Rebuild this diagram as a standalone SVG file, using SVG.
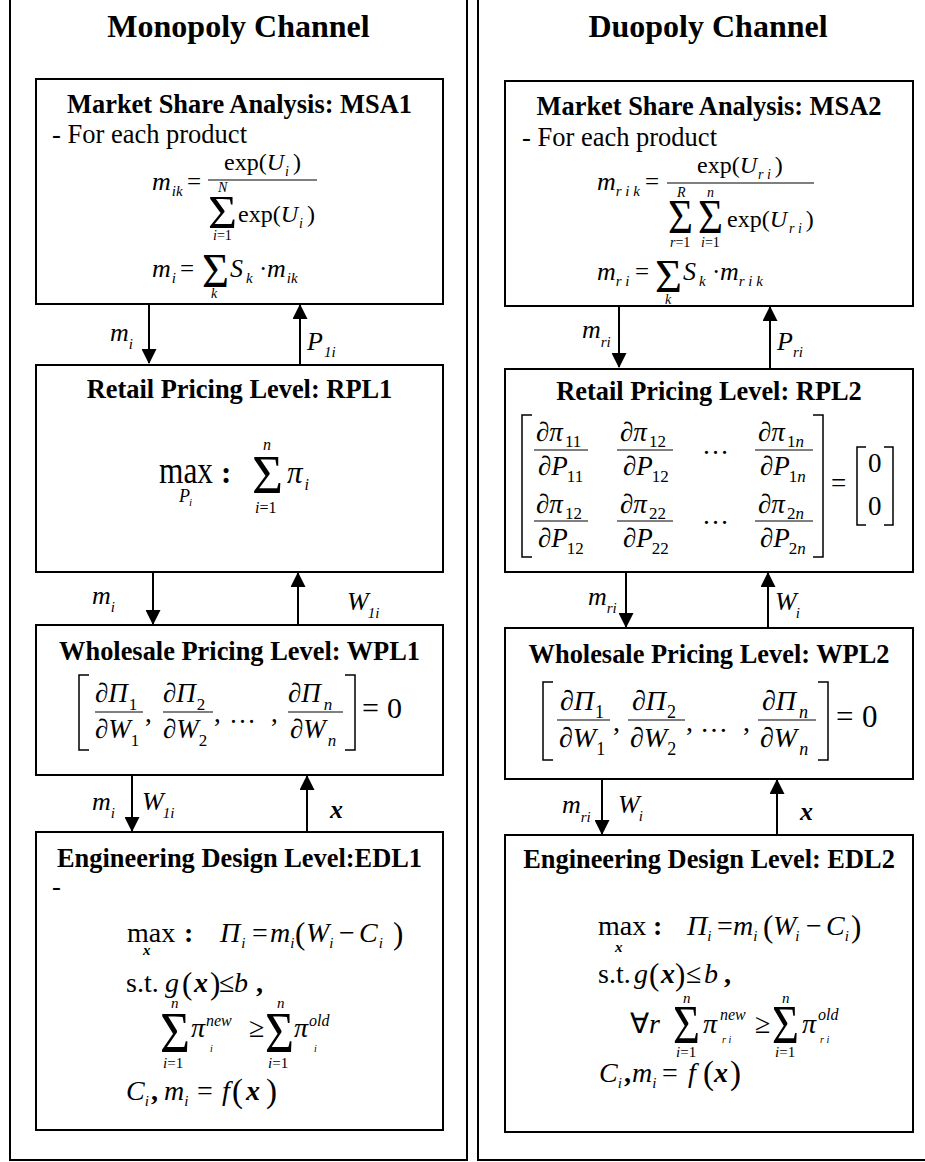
<svg xmlns="http://www.w3.org/2000/svg" width="925" height="1162" viewBox="0 0 925 1162">
<defs>
<style>
text{font-family:"Liberation Serif","Times New Roman",serif;fill:#000}
.pane{fill:none;stroke:#000;stroke-width:2}
.box{fill:#fff;stroke:#000;stroke-width:2}
.hd{font-size:32px;font-weight:bold;text-anchor:middle}
.tt{font-size:26.4px;font-weight:bold;text-anchor:middle}
.rg{font-size:26.5px}
.i{font-style:italic}
.u{font-style:normal}
.b{font-weight:bold}
.bi{font-style:italic;font-weight:bold}
.bar{stroke:#000;stroke-width:1.2}
.brk{fill:none;stroke:#000;stroke-width:1.5}
.conn{stroke:#000;stroke-width:2;marker-end:url(#ah)}
.lb{font-size:26px;font-style:italic}
</style>
<marker id="ah" markerUnits="userSpaceOnUse" markerWidth="15" markerHeight="15" viewBox="0 0 15 15" refX="14" refY="7.5" orient="auto"><path d="M0,0L15,7.5L0,15z" fill="#000"/></marker>
</defs>
<rect width="925" height="1162" fill="#fff"/>
<g id="panels">
<path class="pane" d="M10,0V1160H467V0"/>
<path class="pane" d="M478,0V1160H925"/>
<text class="hd" x="238.5" y="37">Monopoly Channel</text>
<text class="hd" x="708" y="37">Duopoly Channel</text>
</g>

<g id="msa1">
<rect class="box" x="36" y="79" width="407" height="225"/>
<text class="tt" x="239.5" y="113">Market Share Analysis: MSA1</text>
<text class="rg" x="52" y="143">- For each product</text>
<text class="i" x="152" y="190" font-size="26">m<tspan font-size="15" dy="6" dx="1">ik</tspan></text>
<text x="187" y="190" font-size="25">=</text>
<text x="224" y="170" font-size="24">exp(<tspan class="i">U</tspan><tspan class="i" font-size="14" dy="6" dx="1">i</tspan><tspan dy="-6" dx="4">)</tspan></text>
<line class="bar" x1="208" y1="180" x2="317" y2="180"/>
<text class="i" x="218" y="192" font-size="14">N</text>
<text x="208" y="228" font-size="47" textLength="29" lengthAdjust="spacingAndGlyphs">Σ</text>
<text x="238" y="222" font-size="24">exp(<tspan class="i">U</tspan><tspan class="i" font-size="14" dy="6" dx="1">i</tspan><tspan dy="-6" dx="4">)</tspan></text>
<text x="213" y="240" font-size="14"><tspan class="i">i</tspan>=1</text>
<text class="i" x="152" y="277" font-size="26">m<tspan font-size="15" dy="6" dx="1">i</tspan></text>
<text x="180" y="277" font-size="25">=</text>
<text x="202" y="287" font-size="48" textLength="27" lengthAdjust="spacingAndGlyphs">Σ</text>
<text class="i" x="211" y="298" font-size="14">k</text>
<text class="i" x="230" y="277" font-size="26">S<tspan font-size="15" dy="6" dx="3">k</tspan></text>
<text x="259" y="277" font-size="25">·</text>
<text class="i" x="267" y="277" font-size="26">m<tspan font-size="15" dy="6" dx="1">ik</tspan></text>
</g>

<g id="msa2">
<rect class="box" x="505" y="81" width="408" height="225"/>
<text class="tt" x="709" y="115">Market Share Analysis: MSA2</text>
<text class="rg" x="522" y="146">- For each product</text>
<text class="i" x="597" y="190" font-size="26">m<tspan font-size="15" dy="6">r i k</tspan></text>
<text x="645" y="190" font-size="25">=</text>
<text x="697" y="173" font-size="24">exp(<tspan class="i">U</tspan><tspan class="i" font-size="14" dy="6" dx="1">r i</tspan><tspan dy="-6" dx="4">)</tspan></text>
<line class="bar" x1="667" y1="183" x2="814" y2="183"/>
<text class="i" x="677" y="197" font-size="14">R</text>
<text class="i" x="707" y="197" font-size="14">n</text>
<text x="668" y="233" font-size="48" textLength="25" lengthAdjust="spacingAndGlyphs">Σ</text>
<text x="698" y="233" font-size="48" textLength="25" lengthAdjust="spacingAndGlyphs">Σ</text>
<text x="727" y="227" font-size="24">exp(<tspan class="i">U</tspan><tspan class="i" font-size="14" dy="6" dx="2">r i</tspan><tspan dy="-6" dx="4">)</tspan></text>
<text x="670" y="247" font-size="14"><tspan class="i">r</tspan>=1</text>
<text x="701" y="247" font-size="14"><tspan class="i">i</tspan>=1</text>
<text class="i" x="597" y="280" font-size="26">m<tspan font-size="15" dy="6">r i</tspan></text>
<text x="635" y="280" font-size="25">=</text>
<text x="655" y="292" font-size="46" textLength="27" lengthAdjust="spacingAndGlyphs">Σ</text>
<text class="i" x="665" y="304" font-size="14">k</text>
<text class="i" x="683" y="280" font-size="26">S<tspan font-size="15" dy="6" dx="3">k</tspan></text>
<text x="712" y="280" font-size="25">·</text>
<text class="i" x="720" y="280" font-size="26">m<tspan font-size="15" dy="6">r i k</tspan></text>
</g>

<g id="rpl1">
<rect class="box" x="36" y="365" width="407" height="207"/>
<text class="tt" x="239.5" y="398">Retail Pricing Level: RPL1</text>
<text x="159" y="483" font-size="37" textLength="54" lengthAdjust="spacingAndGlyphs">max</text>
<text class="i" x="179" y="502" font-size="18">P<tspan font-size="11" dy="4" dx="-1">i</tspan></text>
<text class="b" x="221" y="483" font-size="31">:</text>
<text class="i" x="263" y="450" font-size="16">n</text>
<text x="252" y="493" font-size="54" textLength="31" lengthAdjust="spacingAndGlyphs">Σ</text>
<text x="255" y="513" font-size="16"><tspan class="i">i</tspan>=1</text>
<text class="i" x="287" y="483" font-size="31">π<tspan font-size="16" dy="7" dx="2">i</tspan></text>
</g>

<g id="rpl2">
<rect class="box" x="505" y="369" width="408" height="203"/>
<text class="tt" x="709" y="400">Retail Pricing Level: RPL2</text>
<path class="brk" d="M532,415H522V557H532"/>
<path class="brk" d="M813,415H823V557H813"/>
<g font-size="27">
<text x="536" y="441">∂<tspan class="i">π</tspan><tspan font-size="17" dy="6" dx="2">11</tspan></text>
<line class="bar" x1="534" y1="450" x2="588" y2="450"/>
<text x="538" y="475">∂<tspan class="i">P</tspan><tspan font-size="17" dy="7" dx="-1">11</tspan></text>
<text x="620" y="441">∂<tspan class="i">π</tspan><tspan font-size="17" dy="6" dx="2">12</tspan></text>
<line class="bar" x1="617" y1="450" x2="673" y2="450"/>
<text x="623" y="475">∂<tspan class="i">P</tspan><tspan font-size="17" dy="7" dx="-1">12</tspan></text>
<text x="702" y="454">…</text>
<text x="758" y="441">∂<tspan class="i">π</tspan><tspan font-size="17" dy="6" dx="2">1<tspan class="i">n</tspan></tspan></text>
<line class="bar" x1="755" y1="450" x2="813" y2="450"/>
<text x="760" y="475">∂<tspan class="i">P</tspan><tspan font-size="17" dy="7" dx="-1">1<tspan class="i">n</tspan></tspan></text>
<text x="536" y="513">∂<tspan class="i">π</tspan><tspan font-size="17" dy="6" dx="2">12</tspan></text>
<line class="bar" x1="534" y1="521" x2="588" y2="521"/>
<text x="538" y="547">∂<tspan class="i">P</tspan><tspan font-size="17" dy="7" dx="-1">12</tspan></text>
<text x="620" y="513">∂<tspan class="i">π</tspan><tspan font-size="17" dy="6" dx="2">22</tspan></text>
<line class="bar" x1="617" y1="521" x2="673" y2="521"/>
<text x="623" y="547">∂<tspan class="i">P</tspan><tspan font-size="17" dy="7" dx="-1">22</tspan></text>
<text x="702" y="524">…</text>
<text x="758" y="513">∂<tspan class="i">π</tspan><tspan font-size="17" dy="6" dx="2">2<tspan class="i">n</tspan></tspan></text>
<line class="bar" x1="755" y1="521" x2="813" y2="521"/>
<text x="760" y="547">∂<tspan class="i">P</tspan><tspan font-size="17" dy="7" dx="-1">2<tspan class="i">n</tspan></tspan></text>
<text x="831" y="492">=</text>
<text x="868" y="472">0</text>
<text x="868" y="515">0</text>
</g>
<path class="brk" d="M866,447H857V525H866"/>
<path class="brk" d="M884,447H893V525H884"/>
</g>

<g id="wpl1">
<rect class="box" x="36" y="625" width="407" height="150"/>
<text class="tt" x="239.5" y="660">Wholesale Pricing Level: WPL1</text>
<path class="brk" d="M89,675H79V750H89"/>
<path class="brk" d="M345,675H355V750H345"/>
<g font-size="27">
<text x="95" y="702">∂<tspan class="i">Π</tspan><tspan font-size="17" dy="8" dx="1">1</tspan></text>
<line class="bar" x1="95" y1="712" x2="143" y2="712"/>
<text x="95" y="738">∂<tspan class="i">W</tspan><tspan font-size="17" dy="8" dx="0">1</tspan></text>
<text x="145" y="722">,</text>
<text x="163" y="702">∂<tspan class="i">Π</tspan><tspan font-size="17" dy="8" dx="1">2</tspan></text>
<line class="bar" x1="163" y1="712" x2="213" y2="712"/>
<text x="163" y="738">∂<tspan class="i">W</tspan><tspan font-size="17" dy="8" dx="0">2</tspan></text>
<text x="214" y="722">,</text>
<text x="229" y="723">…</text>
<text x="271" y="722">,</text>
<text x="288" y="702">∂<tspan class="i">Π</tspan><tspan class="i" font-size="17" dy="8" dx="3">n</tspan></text>
<line class="bar" x1="288" y1="712" x2="343" y2="712"/>
<text x="290" y="738">∂<tspan class="i">W</tspan><tspan class="i" font-size="17" dy="8" dx="2">n</tspan></text>
</g>
<text x="362" y="718" font-size="30">=</text>
<text x="387" y="718" font-size="30">0</text>
</g>

<g id="wpl2">
<rect class="box" x="505" y="628" width="408" height="151"/>
<text class="tt" x="709" y="663">Wholesale Pricing Level: WPL2</text>
<path class="brk" d="M553,682H543V760H553"/>
<path class="brk" d="M818,682H828V760H818"/>
<g font-size="28">
<text x="560" y="710">∂<tspan class="i">Π</tspan><tspan font-size="18" dy="8" dx="1">1</tspan></text>
<line class="bar" x1="557" y1="720" x2="610" y2="720"/>
<text x="559" y="747">∂<tspan class="i">W</tspan><tspan font-size="18" dy="8" dx="0">1</tspan></text>
<text x="613" y="731">,</text>
<text x="632" y="710">∂<tspan class="i">Π</tspan><tspan font-size="18" dy="8" dx="1">2</tspan></text>
<line class="bar" x1="628" y1="720" x2="685" y2="720"/>
<text x="630" y="747">∂<tspan class="i">W</tspan><tspan font-size="18" dy="8" dx="0">2</tspan></text>
<text x="686" y="731">,</text>
<text x="700" y="732">…</text>
<text x="743" y="731">,</text>
<text x="762" y="710">∂<tspan class="i">Π</tspan><tspan class="i" font-size="18" dy="8" dx="3">n</tspan></text>
<line class="bar" x1="758" y1="720" x2="816" y2="720"/>
<text x="760" y="747">∂<tspan class="i">W</tspan><tspan class="i" font-size="18" dy="8" dx="2">n</tspan></text>
</g>
<text x="836" y="727" font-size="31">=</text>
<text x="862" y="727" font-size="31">0</text>
</g>

<g id="edl1">
<rect class="box" x="36" y="832" width="407" height="298"/>
<text class="tt" x="239.5" y="867">Engineering Design Level:EDL1</text>
<text class="rg" x="52" y="895">-</text>
<g font-size="28">
<text x="127" y="942">max</text>
<text class="bi" x="143" y="955" font-size="15">x</text>
<text class="b" x="184" y="942">:</text>
<text class="i" x="220" y="942">Π<tspan font-size="15" dy="6" dx="1">i</tspan></text>
<text x="252" y="942">=</text>
<text class="i" x="270" y="942">m<tspan font-size="15" dy="6" dx="0">i</tspan></text>
<text x="295" y="944" font-size="31">(</text>
<text class="i" x="306" y="942">W<tspan font-size="15" dy="6" dx="0">i</tspan></text>
<text x="339" y="942">−</text>
<text class="i" x="359" y="942">C<tspan font-size="15" dy="6" dx="1">i</tspan></text>
<text x="393" y="944" font-size="31">)</text>
<text x="126" y="992">s.t.</text>
<text class="i" x="165" y="992">g</text>
<text x="182" y="994" font-size="31">(</text>
<text class="bi" x="194" y="992">x</text>
<text x="210" y="994" font-size="31">)</text>
<text x="219" y="992">≤</text>
<text class="i" x="234" y="992">b</text>
<text class="b" x="256" y="992">,</text>
<text x="160" y="1052" font-size="58" textLength="30" lengthAdjust="spacingAndGlyphs">Σ</text>
<text class="i" x="171" y="1008" font-size="15">n</text>
<text x="163" y="1068" font-size="15"><tspan class="i">i</tspan>=1</text>
<text class="i" x="191" y="1037">π</text>
<text class="i" x="206" y="1026" font-size="16">new</text>
<text class="i" x="210" y="1052" font-size="10">i</text>
<text x="249" y="1037">≥</text>
<text x="265" y="1052" font-size="58" textLength="29" lengthAdjust="spacingAndGlyphs">Σ</text>
<text class="i" x="277" y="1008" font-size="15">n</text>
<text x="268" y="1068" font-size="15"><tspan class="i">i</tspan>=1</text>
<text class="i" x="294" y="1037">π</text>
<text class="i" x="309" y="1026" font-size="16">old</text>
<text class="i" x="314" y="1052" font-size="10">i</text>
<text class="i" x="126" y="1100">C<tspan font-size="15" dy="6" dx="0">i</tspan></text>
<text class="b" x="151" y="1100">,</text>
<text class="i" x="164" y="1100">m<tspan font-size="15" dy="6" dx="0">i</tspan></text>
<text x="197" y="1100">=</text>
<text class="i" x="222" y="1100">f</text>
<text x="232" y="1102" font-size="33">(</text>
<text class="bi" x="246" y="1100">x</text>
<text x="266" y="1102" font-size="33">)</text>
</g>
</g>

<g id="edl2">
<rect class="box" x="505" y="835" width="408" height="297"/>
<text class="tt" x="709" y="868">Engineering Design Level: EDL2</text>
<g font-size="28">
<text x="598" y="935">max</text>
<text class="bi" x="615" y="952" font-size="15">x</text>
<text class="b" x="653" y="935">:</text>
<text class="i" x="687" y="935">Π<tspan font-size="15" dy="6" dx="0">i</tspan></text>
<text x="717" y="935">=</text>
<text class="i" x="733" y="935">m<tspan font-size="15" dy="6" dx="0">i</tspan></text>
<text x="763" y="937" font-size="31">(</text>
<text class="i" x="773" y="935">W<tspan font-size="15" dy="6" dx="-1">i</tspan></text>
<text x="806" y="935">−</text>
<text class="i" x="826" y="935">C<tspan font-size="15" dy="6" dx="0">i</tspan></text>
<text x="851" y="937" font-size="31">)</text>
<text x="598" y="983">s.t.</text>
<text class="i" x="634" y="983">g</text>
<text x="649" y="985" font-size="31">(</text>
<text class="bi" x="661" y="983">x</text>
<text x="675" y="985" font-size="31">)</text>
<text x="686" y="983">≤</text>
<text class="i" x="704" y="983">b</text>
<text class="b" x="724" y="983">,</text>
<text x="630" y="1033">∀<tspan class="i">r</tspan></text>
<text x="673" y="1043" font-size="54" textLength="27" lengthAdjust="spacingAndGlyphs">Σ</text>
<text class="i" x="683" y="1003" font-size="15">n</text>
<text x="676" y="1057" font-size="15"><tspan class="i">i</tspan>=1</text>
<text class="i" x="703" y="1033">π</text>
<text class="i" x="720" y="1020" font-size="16">new</text>
<text class="i" x="722" y="1043" font-size="10">r i</text>
<text x="755" y="1033">≥</text>
<text x="772" y="1043" font-size="54" textLength="27" lengthAdjust="spacingAndGlyphs">Σ</text>
<text class="i" x="782" y="1003" font-size="15">n</text>
<text x="775" y="1057" font-size="15"><tspan class="i">i</tspan>=1</text>
<text class="i" x="802" y="1033">π</text>
<text class="i" x="818" y="1020" font-size="16">old</text>
<text class="i" x="820" y="1043" font-size="10">r i</text>
<text class="i" x="599" y="1082">C<tspan font-size="15" dy="6" dx="0">i</tspan></text>
<text class="b" x="624" y="1082">,</text>
<text class="i" x="632" y="1082">m<tspan font-size="15" dy="6" dx="0">i</tspan></text>
<text x="662" y="1082">=</text>
<text class="i" x="688" y="1082">f</text>
<text x="703" y="1084" font-size="33">(</text>
<text class="bi" x="714" y="1082">x</text>
<text x="730" y="1084" font-size="33">)</text>
</g>
</g>

<g id="connectors">
<line class="conn" x1="149" y1="304" x2="149" y2="363"/>
<line class="conn" x1="300" y1="365" x2="300" y2="305"/>
<line class="conn" x1="619" y1="306" x2="619" y2="367"/>
<line class="conn" x1="770" y1="369" x2="770" y2="307"/>
<line class="conn" x1="153" y1="572" x2="153" y2="624"/>
<line class="conn" x1="298" y1="625" x2="298" y2="573"/>
<line class="conn" x1="626" y1="572" x2="626" y2="627"/>
<line class="conn" x1="768" y1="628" x2="768" y2="573"/>
<line class="conn" x1="132" y1="775" x2="132" y2="831"/>
<line class="conn" x1="307" y1="832" x2="307" y2="776"/>
<line class="conn" x1="602" y1="779" x2="602" y2="834"/>
<line class="conn" x1="777" y1="835" x2="777" y2="780"/>
<text class="lb" x="110" y="341">m<tspan font-size="15" dy="8" dx="0">i</tspan></text>
<text class="lb" x="307" y="350">P<tspan font-size="15" dy="7" dx="1">1i</tspan></text>
<text class="lb" x="582" y="338">m<tspan font-size="15" dy="9" dx="0">ri</tspan></text>
<text class="lb" x="777" y="350">P<tspan font-size="15" dy="7" dx="0">ri</tspan></text>
<text class="lb" x="92" y="604">m<tspan font-size="15" dy="8" dx="0">i</tspan></text>
<text class="lb" x="347" y="610">W<tspan font-size="15" dy="8" dx="-1">1i</tspan></text>
<text class="lb" x="588" y="605">m<tspan font-size="15" dy="8" dx="0">ri</tspan></text>
<text class="lb" x="775" y="610">W<tspan font-size="15" dy="8" dx="-1">i</tspan></text>
<text class="lb" x="92" y="810">m<tspan font-size="15" dy="8" dx="0">i</tspan></text>
<text class="lb" x="142" y="810">W<tspan font-size="15" dy="8" dx="-1">1i</tspan></text>
<text class="lb b" x="330" y="818">x</text>
<text class="lb" x="562" y="813">m<tspan font-size="15" dy="9" dx="0">ri</tspan></text>
<text class="lb" x="618" y="813">W<tspan font-size="15" dy="8" dx="-1">i</tspan></text>
<text class="lb b" x="800" y="820">x</text>
</g>
</svg>
